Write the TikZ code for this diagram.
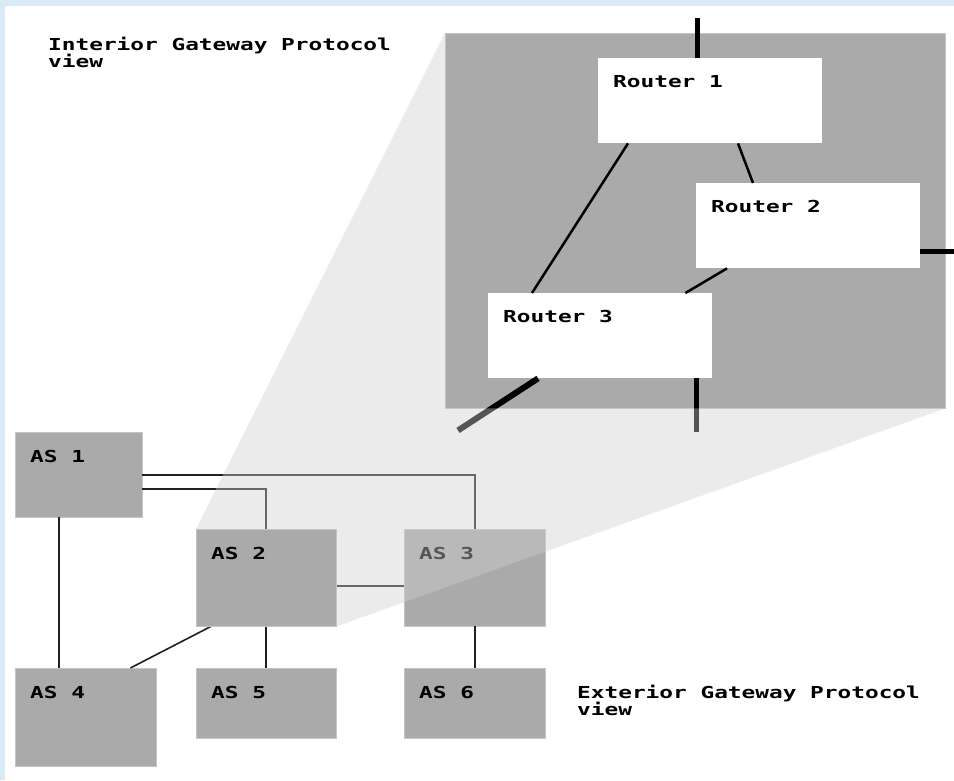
\documentclass[tikz,border=0pt]{standalone}
\usepackage{fontspec}
\usepackage{xcolor}
\usetikzlibrary{positioning, calc, backgrounds}
\newfontfamily\pixfont[FakeStretch=1.38]{DejaVu Sans Mono}
\newcommand{\boxfont}{\pixfont\bfseries\fontsize{16.5}{17}\selectfont}
\definecolor{framebg}{HTML}{D9EAF7}
\definecolor{boxgray}{HTML}{AAAAAA}
\definecolor{boxedge}{HTML}{C4C4C4}
\definecolor{wedgegray}{HTML}{D0D0D0}
\definecolor{linkgray}{HTML}{202020}
\pgfdeclarelayer{under}
\pgfdeclarelayer{shade}
\pgfsetlayers{under,shade,main}

\begin{document}
\begin{tikzpicture}[
  x=1pt, y=-1pt,
  igpbox/.style={rectangle, fill=boxgray, draw=boxedge, anchor=north west, inner sep=0pt, minimum width=500pt, minimum height=375pt},
  routerbox/.style={rectangle, fill=white, anchor=north west, inner xsep=15pt, inner ysep=0pt, align=flush left, text width=194pt, text height=29pt, text depth=56pt, font=\boxfont},
  asbox/.style 2 args={rectangle, fill=boxgray, draw=boxedge, anchor=north west, inner xsep=15pt, inner ysep=0pt, align=flush left, text width=#1-30pt, text height=30pt, text depth=#2-30pt, font=\boxfont},
  note/.style={anchor=base west, inner sep=0pt, align=flush left, font=\boxfont},
  rlink/.style={draw=black, line width=2.5pt},
  stub/.style={draw=black, line width=5pt},
  aslink/.style={draw=linkgray, line width=1.6pt}
]
  \useasboundingbox (0,0) rectangle (954,780);

  % AS 2 sits above the wedge
  \node[asbox={140pt}{97pt}] (as2) at (196,529) {AS 2};

  \begin{pgfonlayer}{under}
    % Frame
    \fill[framebg] (0,0) rectangle (954,780);
    \fill[white] (5,6) rectangle (954,780);

    % Interior view
    \node[igpbox] (igp) at (445,33) {};
    \node[routerbox] (r1) at (598,58) {Router 1};
    \node[routerbox] (r2) at (696,183) {Router 2};
    \node[routerbox] (r3) at (488,293) {Router 3};

    \draw[rlink] ([xshift=30pt]r1.south west) -- ([xshift=44pt]r3.north west);
    \draw[rlink] ([xshift=140pt]r1.south west) -- ([xshift=57pt]r2.north west);
    \draw[rlink] ([xshift=31pt]r2.south west) -- ([xshift=-27pt]r3.north east);

    % Outside links
    \draw[stub] ([xshift=99pt]r1.north west) -- ++(0,-40);
    \draw[stub] ([yshift=17pt]r2.south east) -- ++(34,0);
    \draw[stub, line width=6pt] ([xshift=50pt]r3.south west) -- ++(-80,52);
    \draw[stub] ([xshift=-16pt]r3.south east) -- ++(0,54);

    % Exterior view
    \node[asbox={127pt}{85pt}] (as1) at (15,432) {AS 1};
    \node[asbox={141pt}{97pt}] (as3) at (404,529) {AS 3};
    \node[asbox={141pt}{98pt}] (as4) at (15,668) {AS 4};
    \node[asbox={140pt}{70pt}] (as5) at (196,668) {AS 5};
    \node[asbox={141pt}{70pt}] (as6) at (404,668) {AS 6};

    \draw[aslink] (as1.east) -| (as3.north);
    \draw[aslink] ([yshift=-14pt]as1.east) -| (as2.north);
    \draw[aslink] ([xshift=-20pt]as1.south) -- ([xshift=-20pt]as1.south |- as4.north);
    \draw[aslink] ([yshift=-8pt]as2.east) -- ([yshift=-8pt]as2.east -| as3.west);
    \draw[aslink] ([xshift=15pt]as2.south west) -- ([xshift=-26pt]as4.north east);
    \draw[aslink] (as2.south) -- (as5.north);
    \draw[aslink] (as3.south) -- (as6.north);
  \end{pgfonlayer}

  % Zoom wedge
  \begin{pgfonlayer}{shade}
    \fill[wedgegray, fill opacity=0.41] (as2.north west) -- (igp.north west) -- (igp.south west) -- (igp.south east) -- (as2.south east) -- cycle;
  \end{pgfonlayer}

  % Captions
  \node[note] (igplabel) at (48,67) {Interior Gateway Protocol\\view};
  \node[note] (egplabel) at (577,715) {Exterior Gateway Protocol\\view};
\end{tikzpicture}
\end{document}
